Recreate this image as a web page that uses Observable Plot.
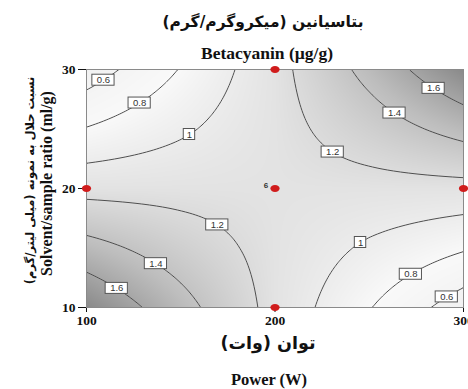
<!DOCTYPE html>
<html>
<head>
<meta charset="utf-8">
<script src="https://cdn.jsdelivr.net/npm/d3@7"></script>
<script src="https://cdn.jsdelivr.net/npm/@observablehq/plot@0.6"></script>
<style>
  html, body { margin: 0; padding: 0; background: #fff; }
  #chart { width: 468px; height: 389px; overflow: hidden; }
</style>
</head>
<body>
<div id="chart"></div>
<script>
// ---- data ----
const power = [100, 150, 200, 250, 300];          // W
const ratio = [10, 15, 20, 25, 30];               // ml/g
// betacyanin (µg/g) read at grid nodes; rows follow ratio, columns follow power
const betacyanin = [
  [1.79, 1.47, 1.14, 0.81, 0.49],
  [1.47, 1.30, 1.14, 0.97, 0.82],
  [1.14, 1.14, 1.14, 1.14, 1.14],
  [0.81, 0.97, 1.14, 1.30, 1.47],
  [0.49, 0.81, 1.14, 1.46, 1.79]
];
const levels = [0.6, 0.8, 1, 1.2, 1.4, 1.6];
const designPower = [100, 200, 200, 300, 200];
const designRatio = [20, 30, 20, 20, 10];
const centerRuns = ["6"];
const xTicks = [100, 200, 300];
const yTicks = [10, 20, 30];
const titleFa = "بتاسیانین (میکروگرم/گرم)";
const titleEn = "Betacyanin (µg/g)";
const xTitleFa = "توان (وات)";
const xTitleEn = "Power (W)";
const yTitleFa = "نسبت حلال به نمونه (میلی لیتر/گرم)";
const yTitleEn = "Solvent/sample ratio (ml/g)";

// ---- generic bilinear interpolation over the read grid ----
function locate(arr, v) {
  let i = 0;
  while (i < arr.length - 2 && v > arr[i + 1]) i++;
  const t = Math.max(0, Math.min(1, (v - arr[i]) / (arr[i + 1] - arr[i])));
  return [i, t];
}
function value(p, r) {
  const [i, t] = locate(power, p);
  const [j, u] = locate(ratio, r);
  const z = betacyanin;
  return (1 - t) * (1 - u) * z[j][i] + t * (1 - u) * z[j][i + 1]
       + (1 - t) * u * z[j + 1][i] + t * u * z[j + 1][i + 1];
}

// contour label anchors: where each level crosses the diagonals from the centre point
const cP = designPower[2], cR = designRatio[2];
const corners = [[power[0], ratio[0]], [power[0], ratio[ratio.length - 1]],
                 [power[power.length - 1], ratio[0]], [power[power.length - 1], ratio[ratio.length - 1]]];
const labels = [];
for (const [qP, qR] of corners) {
  const f0 = value(cP, cR), f1 = value(qP, qR);
  for (const lv of levels) {
    if ((lv - f0) * (lv - f1) >= 0) continue;
    let a = 0, b = 1;
    for (let k = 0; k < 40; k++) {
      const m = (a + b) / 2;
      const fm = value(cP + m * (qP - cP), cR + m * (qR - cR));
      if ((fm - lv) * (f0 - lv) > 0) a = m; else b = m;
    }
    const m = (a + b) / 2;
    labels.push({p: cP + m * (qP - cP), r: cR + m * (qR - cR), text: String(lv)});
  }
}

const W = 468, H = 389, mL = 86, mR = 5, mT = 69, mB = 82;
const kx = (power[power.length - 1] - power[0]) / (W - mL - mR);
const ky = (ratio[ratio.length - 1] - ratio[0]) / (H - mT - mB);
const boxW = d => (d.text.length * 5.4 + 6) / 2 * kx;
const boxH = 5.5 * ky;

const ellipse = {
  draw(ctx) {
    const rx = 4.6, ry = 3.4, c = 0.5523;
    ctx.moveTo(rx, 0);
    ctx.bezierCurveTo(rx, ry * c, rx * c, ry, 0, ry);
    ctx.bezierCurveTo(-rx * c, ry, -rx, ry * c, -rx, 0);
    ctx.bezierCurveTo(-rx, -ry * c, -rx * c, -ry, 0, -ry);
    ctx.bezierCurveTo(rx * c, -ry, rx, -ry * c, rx, 0);
    ctx.closePath();
  }
};

const design = designPower.map((p, i) => ({p, r: designRatio[i]}));
const serif = "'Liberation Serif', 'Times New Roman', serif";
const arabic = "'DejaVu Sans', sans-serif";
const title = (txt, o) => Plot.text([txt], {text: d => d, textAnchor: "middle", lineAnchor: "middle", fill: "#111", fontWeight: "bold", ...o});

const plot = Plot.plot({
  width: W, height: H,
  marginLeft: mL, marginRight: mR, marginTop: mT, marginBottom: mB,
  style: {fontFamily: serif, fontSize: "13.5px", fontWeight: "bold", color: "#111", background: "#fff"},
  x: {domain: [power[0], power[power.length - 1]], ticks: xTicks, tickFormat: d => String(d), label: null, tickSize: 5, tickPadding: 3},
  y: {domain: [ratio[0], ratio[ratio.length - 1]], ticks: yTicks, tickFormat: d => String(d), label: null, tickSize: 8, tickPadding: 3},
  color: {type: "linear", domain: [0.45, 0.8, 1.14, 1.45, 1.8],
          range: ["#f0f0f0", "#f9f9f9", "#e3e3e3", "#bdbdbd", "#888888"]},
  marks: [
    Plot.raster({x1: power[0], x2: power[power.length - 1], y1: ratio[0], y2: ratio[ratio.length - 1],
                 fill: (x, y) => value(x, y), pixelSize: 1}),
    Plot.contour({x1: power[0], x2: power[power.length - 1], y1: ratio[0], y2: ratio[ratio.length - 1],
                  value: (x, y) => value(x, y), thresholds: levels, pixelSize: 1,
                  fill: "none", stroke: "#4f4f4f", strokeWidth: 1}),
    Plot.frame({stroke: "#8a8a8a"}),
    Plot.rect(labels, {x1: d => d.p - boxW(d), x2: d => d.p + boxW(d), y1: d => d.r - boxH, y2: d => d.r + boxH,
                       fill: "#fff", stroke: "#555", strokeWidth: 1}),
    Plot.text(labels, {x: "p", y: "r", text: "text", fontFamily: "'Liberation Sans', Arial, sans-serif",
                       fontWeight: "normal", fontSize: 9.5, fill: "#333"}),
    Plot.dot(design, {x: "p", y: "r", symbol: ellipse, fill: "#d01c1c", stroke: "none"}),
    Plot.text(centerRuns, {x: () => cP, y: () => cR, text: d => d, dx: -9, dy: -3, fontSize: 8,
                           fontFamily: "'Liberation Sans', Arial, sans-serif", fill: "#333"}),
    title(titleFa, {frameAnchor: "top", dx: -12, dy: -47, fontSize: 15.5, fontFamily: arabic}),
    title(titleEn, {frameAnchor: "top", dx: -8, dy: -16.5, fontSize: 17.5, fontFamily: serif}),
    title(xTitleFa, {frameAnchor: "bottom", dx: -7, dy: 36, fontSize: 17.5, fontFamily: arabic}),
    title(xTitleEn, {frameAnchor: "bottom", dx: -6, dy: 72, fontSize: 16.5, fontFamily: serif}),
    title(yTitleFa, {frameAnchor: "left", dx: -56, dy: -8, rotate: -90, fontSize: 11.5, fontFamily: arabic}),
    title(yTitleEn, {frameAnchor: "left", dx: -40, dy: -5, rotate: -90, fontSize: 16, fontFamily: serif})
  ]
});

d3.select(plot).selectAll("text")
  .filter(function () { return /[\u0600-\u06FF]/.test(this.textContent); })
  .attr("direction", "rtl");

document.getElementById("chart").appendChild(plot);
</script>
</body>
</html>
